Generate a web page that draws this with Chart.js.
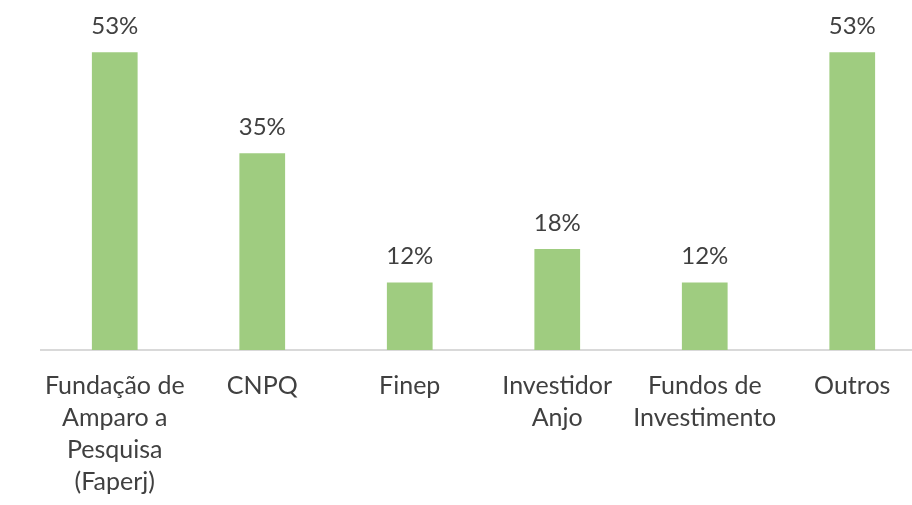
<!DOCTYPE html>
<html>
<head>
<meta charset="utf-8">
<script src="https://cdn.jsdelivr.net/npm/chart.js@4"></script>
<style>
    html, body { margin: 0; padding: 0; background: #fff; overflow: hidden; }
    #wrap { width: 926px; height: 505px; }
</style>
</head>
<body>
<div id="wrap"><canvas id="chart"></canvas></div>
<script>
// Chart data
const categories = [
    ["Fundação de", "Amparo a", "Pesquisa", "(Faperj)"],
    ["CNPQ"],
    ["Finep"],
    ["Investidor", "Anjo"],
    ["Fundos de", "Investimento"],
    ["Outros"]
];
const values = [53, 35, 12, 18, 12, 53];
const yMax = 62.3;

// Draws the percentage above each bar
const valueLabels = {
    id: "valueLabels",
    afterDatasetsDraw(chart) {
        const ctx = chart.ctx;
        const meta = chart.getDatasetMeta(0);
        ctx.save();
        ctx.fillStyle = "#404040";
        ctx.font = "24px Lato";
        ctx.textAlign = "center";
        ctx.textBaseline = "bottom";
        meta.data.forEach((bar, i) => {
            ctx.fillText(values[i] + "%", bar.x, bar.y - 14);
        });
        ctx.restore();
    }
};

const ctx = document.getElementById("chart").getContext("2d");

new Chart(ctx, {
    type: "bar",
    data: {
        labels: categories,
        datasets: [{
            data: values,
            backgroundColor: "#9fcc80",
            barPercentage: 0.31,
            categoryPercentage: 1
        }]
    },
    options: {
        responsive: true,
        maintainAspectRatio: false,
        animation: false,
        layout: { padding: { left: 41, top: 0, right: 0, bottom: 0 } },
        plugins: {
            legend: { display: false },
            tooltip: { enabled: false }
        },
        scales: {
            x: {
                grid: { display: false, drawTicks: false },
                border: { color: "#d9d9d9", width: 2 },
                ticks: {
                    color: "#404040",
                    padding: 20,
                    maxRotation: 0,
                    autoSkip: false,
                    font: { size: 25, family: "Lato", lineHeight: 1.28 }
                },
                afterFit: (scale) => { scale.height = 155; }
            },
            y: {
                display: false,
                min: 0,
                max: yMax
            }
        }
    },
    plugins: [valueLabels]
});
</script>
</body>
</html>
